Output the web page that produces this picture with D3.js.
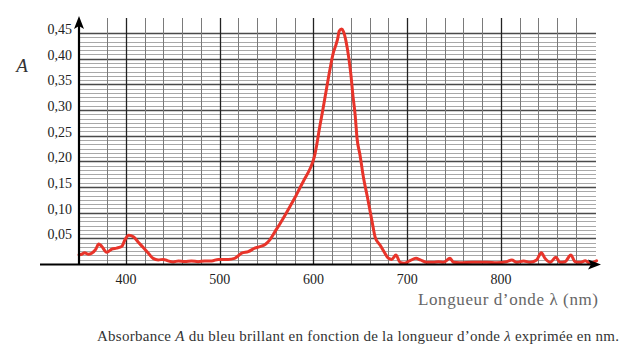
<!DOCTYPE html>
<html><head><meta charset="utf-8">
<script src="https://cdn.jsdelivr.net/npm/d3@7"></script>
<style>
html,body{margin:0;padding:0;background:#fff;}
svg{display:block;}
svg text{font-family:"Liberation Serif","Times New Roman",Tinos,"DejaVu Serif",serif;}
</style></head>
<body>
<svg id="chart" width="639" height="358"></svg>
<script>
// ---- data ----
const wavelengths = [350,353,356,360,363.5,368,371,374,379.5,385,390,395.5,399,403,408,413,418.5,424,429,434.5,440,445,450.5,456,463,470,477,484,491.5,498.5,509,516,523.5,530.5,537.5,543,548.5,553.5,559,564.5,570,575,580.5,585.5,591,596.5,601,603.5,606.5,610,614,617.5,621,624,626,627.5,630,632,634.5,637.5,640,642,644.5,646.5,649.7,653.5,657.5,662.5,666,671,675.3,680,683.5,688,692.4,696.7,703,709.4,714,721,728,733.3,738.6,745.7,749.3,756,770,785,795.5,806,811.5,817,824,831,838,843,847,852.4,858.5,863,868.4,874.5,879,884.4,890,895,902];
const absorbance = [0.018,0.019,0.022,0.019,0.021,0.029,0.039,0.035,0.023,0.029,0.031,0.034,0.047,0.056,0.053,0.043,0.032,0.021,0.011,0.008,0.009,0.006,0.004,0.006,0.005,0.006,0.0045,0.006,0.006,0.009,0.009,0.011,0.021,0.024,0.031,0.034,0.038,0.047,0.063,0.079,0.096,0.112,0.130,0.148,0.167,0.186,0.209,0.232,0.265,0.300,0.342,0.378,0.410,0.427,0.440,0.454,0.458,0.453,0.436,0.404,0.368,0.33,0.29,0.245,0.212,0.167,0.131,0.083,0.051,0.037,0.024,0.011,0.009,0.0175,0.003,0.0014,0.0064,0.011,0.008,0.0033,0.0033,0.0045,0.0033,0.011,0.0033,0.0025,0.0033,0.0033,0.0025,0.0045,0.0078,0.0033,0.0058,0.0033,0.0078,0.022,0.011,0.0033,0.013,0.0033,0.0045,0.0175,0.0045,0.0033,0.0064,0.0014,0.0064];
const xTickLabels = [400,500,600,700,800];
const yTickLabels = [0.05,0.10,0.15,0.20,0.25,0.30,0.35,0.40,0.45];
const xLabel = "Longueur d\u2019onde \u03bb (nm)";
const yLabel = "A";

// ---- scales ----
const svg = d3.select("#chart");
const x = d3.scaleLinear().domain([350,900]).range([79,594.75]);
const y = d3.scaleLinear().domain([0,0.45]).range([264,33]);

// ---- grid ----
const g = svg.append("g");
const hVals = d3.range(1,55).map(i => i*0.05/6);
g.selectAll("line.h").data(hVals).join("line")
  .attr("x1", x(350)).attr("x2", 596)
  .attr("y1", d => Math.round(y(d))+0.5).attr("y2", d => Math.round(y(d))+0.5)
  .attr("stroke", (d,i) => ((i+1)%6===0) ? "#4a4a4a" : "#a8a8a8")
  .attr("stroke-width", (d,i) => ((i+1)%6===0) ? 1.3 : 1);
const vVals = d3.range(380,890,20);
g.selectAll("line.v").data(vVals).join("line")
  .attr("y1", 18).attr("y2", 264)
  .attr("x1", d => Math.round(x(d))+0.5).attr("x2", d => Math.round(x(d))+0.5)
  .attr("stroke", d => d%100===0 ? "#222" : "#7a7a7a")
  .attr("stroke-width", d => d%100===0 ? 1.3 : 1);

// ---- curve ----
const line = d3.line().x((d,i)=>x(wavelengths[i])).y(d=>y(d)).curve(d3.curveMonotoneX);
svg.append("path").datum(absorbance)
  .attr("d", line).attr("fill","none")
  .attr("stroke","#e8342a").attr("stroke-width",3).attr("stroke-linejoin","round").attr("stroke-linecap","round");

// ---- axes ----
svg.append("line").attr("x1",40).attr("x2",592).attr("y1",264.5).attr("y2",264.5)
  .attr("stroke","#000").attr("stroke-width",2.2);
svg.append("path").attr("d","M601,264.5 L588,259.5 L591,264.5 L588,269.5 Z").attr("fill","#000");
svg.append("line").attr("x1",79).attr("x2",79).attr("y1",265).attr("y2",26)
  .attr("stroke","#000").attr("stroke-width",2.2);
svg.append("path").attr("d","M79,16 L74,29 L79,26 L84,29 Z").attr("fill","#000");

// ---- tick labels ----
svg.selectAll("text.yt").data(yTickLabels).join("text")
  .attr("x",72).attr("y",d=>y(d)+1)
  .attr("text-anchor","end").attr("font-size",14).attr("fill","#222")
  .text(d=>d3.format(".2f")(d).replace(".",","));
svg.selectAll("text.xt").data(xTickLabels).join("text")
  .attr("x",d=>x(d)).attr("y",284)
  .attr("text-anchor","middle").attr("font-size",14).attr("fill","#222")
  .text(d=>d);
svg.append("text").attr("x",22).attr("y",72).attr("text-anchor","middle")
  .attr("font-style","italic").attr("font-size",19).attr("fill","#333").text(yLabel);
svg.append("text").attr("x",418).attr("y",305)
  .attr("font-size",17).attr("fill","#666")
  .attr("textLength",180).attr("lengthAdjust","spacing").text(xLabel);

const cap = svg.append("text").attr("x",97).attr("y",341)
  .attr("font-size",15).attr("fill","#333")
  .attr("textLength",522).attr("lengthAdjust","spacing");
cap.append("tspan").text("Absorbance ");
cap.append("tspan").attr("font-style","italic").text("A");
cap.append("tspan").text(" du bleu brillant en fonction de la longueur d\u2019onde ");
cap.append("tspan").attr("font-style","italic").text("\u03bb");
cap.append("tspan").text(" exprimée en nm.");
</script>
</body></html>
